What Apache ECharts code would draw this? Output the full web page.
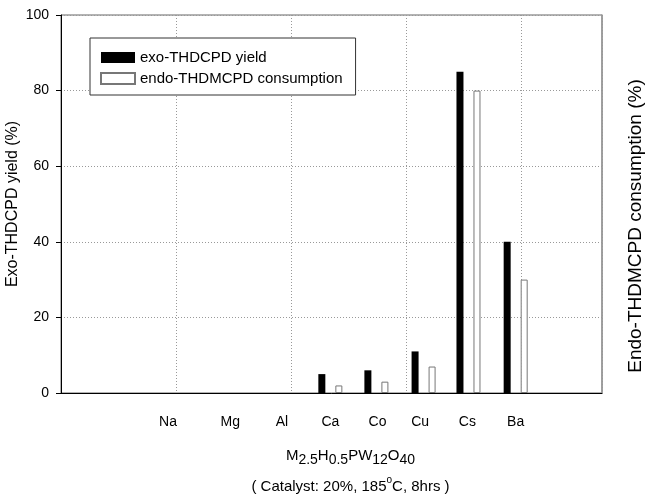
<!DOCTYPE html>
<html>
<head>
<meta charset="utf-8">
<script src="https://cdn.jsdelivr.net/npm/echarts@6/dist/echarts.min.js"></script>
<style>
  html, body { margin: 0; padding: 0; background: #fff; }
  #chart { width: 645px; height: 499px; }
</style>
</head>
<body>
<div id="chart"></div>
<script>
// metals (M in M2.5H0.5PW12O40)
const metals = ['Na', 'Mg', 'Al', 'Ca', 'Co', 'Cu', 'Cs', 'Ba']
// where each label sits on the hidden x scale (labels are unevenly spaced in the source)
const labelPos = [0.93, 1.47, 1.92, 2.34, 2.75, 3.12, 3.53, 3.95]
// centre of each bar pair on the same scale
const barPos = [0.93, 1.47, 1.92, 2.34, 2.74, 3.15, 3.54, 3.95]
const exoYield = [null, null, null, 5, 6, 11, 85, 40]
const endoConsumption = [null, null, null, 2, 3, 7, 80, 30]
const yTicks = [0, 20, 40, 60, 80, 100]

const font = 'Liberation Sans, Arial, sans-serif'

const chart = echarts.init(document.getElementById('chart'), null, { renderer: 'canvas' })

const pairs = (vals) => vals.map((v, i) => (v == null ? null : [barPos[i], v])).filter(Boolean)

chart.setOption({
  backgroundColor: '#fff',
  animation: false,
  textStyle: { fontFamily: font, color: '#000' },
  grid: {
    left: 61, right: 43, top: 15, bottom: 106,
    outerBoundsMode: 'none',
    containLabel: false,
    show: true, borderColor: '#666', borderWidth: 1, backgroundColor: 'transparent'
  },
  legend: {
    left: 90, top: 38,
    orient: 'vertical',
    icon: 'rect',
    itemWidth: 34, itemHeight: 11, itemGap: 6,
    padding: [12, 13, 9, 10],
    borderColor: '#333', borderWidth: 1, backgroundColor: '#fff',
    textStyle: { fontSize: 15, color: '#000', fontFamily: font },
    data: ['exo-THDCPD yield', 'endo-THDMCPD consumption']
  },
  xAxis: {
    type: 'value', min: 0, max: 4.7, interval: 1,
    axisLine: { show: true, onZero: false, lineStyle: { color: '#000', width: 1 } },
    axisTick: { show: false },
    splitLine: { show: true, lineStyle: { color: '#999', type: [1, 2], width: 1 } },
    axisLabel: {
      customValues: labelPos,
      margin: 22, fontSize: 14, color: '#000', fontFamily: font,
      formatter: (v) => metals[labelPos.indexOf(v)] || ''
    },
    name: '{n|M}{s|2.5}{n|H}{s|0.5}{n|PW}{s|12}{n|O}{s|40}\n{m|( Catalyst: 20%, 185}{o|o}{m|C, 8hrs )}',
    nameLocation: 'middle',
    nameMoveOverlap: false,
    nameGap: 55,
    nameTextStyle: {
      padding: [0, 0, 0, 38],
      fontFamily: font,
      rich: {
        n: { fontSize: 15, lineHeight: 17, verticalAlign: 'top', fontFamily: font, color: '#000' },
        s: { fontSize: 14, lineHeight: 17, verticalAlign: 'top', padding: [5, 0, 0, 0], fontFamily: font, color: '#000' },
        m: { fontSize: 15, lineHeight: 29, verticalAlign: 'bottom', fontFamily: font, color: '#000' },
        o: { fontSize: 10, lineHeight: 29, verticalAlign: 'top', padding: [10, 0, 0, 0], fontFamily: font, color: '#000' }
      }
    }
  },
  yAxis: [
    {
      type: 'value', min: 0, max: 100, interval: 20,
      axisLine: { show: true, lineStyle: { color: '#000', width: 1 } },
      axisTick: { show: true, inside: false, length: 5, lineStyle: { color: '#000' } },
      axisLabel: { margin: 12, fontSize: 14, color: '#000', fontFamily: font,
        formatter: (v) => (yTicks.includes(v) ? String(v) : '') },
      splitLine: { show: true, lineStyle: { color: '#999', type: [1, 2], width: 1 } },
      name: 'Exo-THDCPD yield (%)',
      nameLocation: 'middle', nameRotate: 90, nameGap: 40,
      nameMoveOverlap: false,
      nameTextStyle: { fontSize: 16, color: '#000', fontFamily: font }
    },
    {
      type: 'value', min: 0, max: 100, interval: 20, position: 'right',
      axisLine: { show: true, lineStyle: { color: '#999', width: 1.5 } },
      axisTick: { show: false },
      axisLabel: { show: false },
      splitLine: { show: false },
      name: 'Endo-THDMCPD consumption (%)',
      nameLocation: 'middle', nameRotate: 90, nameGap: 24,
      nameMoveOverlap: false,
      nameTextStyle: { fontSize: 19, color: '#000', fontFamily: font, padding: [0, 44, 0, 0] }
    }
  ],
  series: [
    {
      name: 'exo-THDCPD yield',
      type: 'bar',
      barWidth: 7,
      barGap: '143%',
      data: pairs(exoYield),
      itemStyle: { color: '#000', borderColor: '#000', borderWidth: 0 }
    },
    {
      name: 'endo-THDMCPD consumption',
      type: 'bar',
      barWidth: 7,
      data: pairs(endoConsumption),
      itemStyle: { color: '#fff', borderColor: '#777', borderWidth: 1 }
    }
  ]
})
</script>
</body>
</html>
